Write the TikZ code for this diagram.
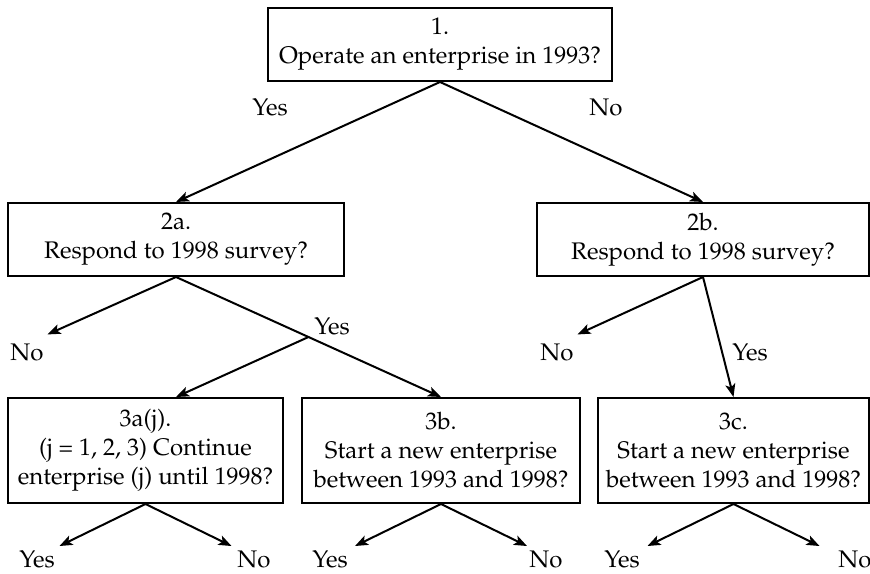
\documentclass[tikz,border=0pt]{standalone}
\usepackage[T1]{fontenc}
\usepackage{mathpazo}
\usetikzlibrary{calc,arrows.meta}

\begin{document}
\begin{tikzpicture}[x=0.5pt, y=-0.5pt, line width=1pt,
	>={Stealth[length=6.5pt,width=5pt,inset=1.5pt]},
	qbox/.style={draw, align=center, inner sep=0pt, font=\fontsize{12}{14.5}\selectfont},
	ans/.style={inner sep=0pt, font=\fontsize{12}{14.5}\selectfont}]
	\useasboundingbox (0,0) rectangle (870,573);
	\node[qbox, minimum width=172pt, minimum height=36.5pt] (q1) at (440,44.5) {1.\\Operate an enterprise in 1993?};
	\node[qbox, minimum width=168pt, minimum height=36.5pt] (q2a) at (176,239.5) {2a.\\Respond to 1998 survey?};
	\node[qbox, minimum width=166pt, minimum height=36.5pt] (q2b) at (703,239.5) {2b.\\Respond to 1998 survey?};
	\node[qbox, minimum width=137.5pt, minimum height=52.5pt] (q3a) at (145.5,450.5) {3a(j).\\(j = 1, 2, 3) Continue\\enterprise (j) until 1998?};
	\node[qbox, minimum width=139pt, minimum height=52.5pt] (q3b) at (441,450.5) {3b.\\Start a new enterprise\\between 1993 and 1998?};
	\node[qbox, minimum width=135.5pt, minimum height=52.5pt] (q3c) at (733.5,450.5) {3c.\\Start a new enterprise\\between 1993 and 1998?};
	\node[ans] (yes1) at (270,107) {Yes};
	\node[ans] (no1) at (606,107) {No};
	\draw[->] (q1.south) -- (q2a.north);
	\draw[->] (q1.south) -- (q2b.north);
	\node[ans] (no2a) at (27,352) {No};
	\draw[->] (q2a.south) -- ($(no2a.north east)+(3,-8)$);
	\coordinate (split) at ($(q2a.south)!0.5!(q3b.north)$);
	\draw[->] (q2a.south) -- (q3b.north);
	\draw[->] (split) -- (q3a.north -| q2a.south);
	\node[ans] (yes2a) at (332,326) {Yes};
	\node[ans] (no2b) at (557,352) {No};
	\draw[->] (q2b.south) -- ($(no2b.north east)+(3,-8)$);
	\node[ans] (yes2b) at (750,352) {Yes};
	\draw[->] (q2b.south) -- (q3c.north);
	\foreach \b/\yx/\nx in {q3a/37/254, q3b/330/546, q3c/622/855}{
		\node[ans] (yes-\b) at (\yx,559) {Yes};
		\node[ans] (no-\b) at (\nx,559) {No};
		\coordinate (ty-\b) at ($(\b.south)+(-86,42)$);
		\coordinate (tn-\b) at ($(\b.south)+(86,42)$);
		\draw[->] (\b.south) -- (ty-\b);
		\draw[->] (\b.south) -- (tn-\b);
	}
\end{tikzpicture}
\end{document}
